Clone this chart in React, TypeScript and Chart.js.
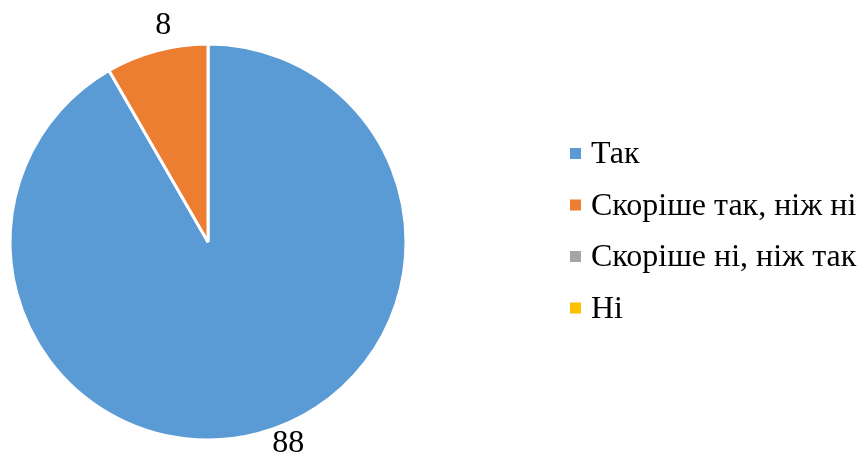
import React, { useEffect, useRef } from "react";
import { Chart, registerables } from "chart.js";

Chart.register(...registerables);

const categories = ["Так", "Скоріше так, ніж ні", "Скоріше ні, ніж так", "Ні"];
const values = [88, 8, 0, 0];
const colors = ["#5B9BD5", "#ED7D31", "#A5A5A5", "#FFC000"];
// per-label nudges from the arc's outer mid-point (layout only)
const labelNudges = [
  [29, 10],
  [6.5, -25],
  [0, 0],
  [0, 0],
];

const FONT = "'Liberation Serif', 'Times New Roman', serif";

const overlayPlugin = {
  id: "overlay",
  afterDraw(chart: any) {
    const ctx = chart.ctx;
    const meta = chart.getDatasetMeta(0);
    ctx.save();
    // data labels
    ctx.fillStyle = "#000";
    ctx.font = `32px ${FONT}`;
    ctx.textAlign = "center";
    ctx.textBaseline = "middle";
    meta.data.forEach((arc: any, i: number) => {
      const v = values[i];
      if (!v) return;
      const { x, y, startAngle, endAngle, outerRadius } = arc.getProps(
        ["x", "y", "startAngle", "endAngle", "outerRadius"],
        true
      );
      const mid = (startAngle + endAngle) / 2;
      const px = x + Math.cos(mid) * outerRadius + labelNudges[i][0];
      const py = y + Math.sin(mid) * outerRadius + labelNudges[i][1];
      ctx.fillText(String(v), px, py);
    });
    // legend
    ctx.font = `32px ${FONT}`;
    ctx.textAlign = "left";
    ctx.textBaseline = "alphabetic";
    const lx = 570;
    const ly0 = 153;
    const step = 51.5;
    categories.forEach((c, i) => {
      const cy = ly0 + i * step;
      ctx.fillStyle = colors[i];
      ctx.fillRect(lx, cy - 5, 11, 11);
      ctx.fillStyle = "#000";
      ctx.fillText(c, lx + 21, cy + 10);
    });
    ctx.restore();
  },
};

export default function App() {
  const ref = useRef<HTMLCanvasElement | null>(null);
  useEffect(() => {
    if (!ref.current) return;
    const chart = new Chart(ref.current, {
      type: "pie",
      data: {
        labels: categories,
        datasets: [
          {
            data: values,
            backgroundColor: colors,
            borderColor: "#ffffff",
            borderWidth: 3,
          },
        ],
      },
      options: {
        responsive: false,
        maintainAspectRatio: false,
        animation: false,
        layout: { padding: { left: 8.5, right: 459.5, top: 42.5, bottom: 14.5 } },
        plugins: {
          legend: { display: false },
          tooltip: { enabled: false },
        },
      },
      plugins: [overlayPlugin],
    });
    return () => chart.destroy();
  }, []);
  return (
    <div style={{ position: "absolute", left: 0, top: 0, width: 867, height: 456, background: "#fff" }}>
      <canvas ref={ref} width={867} height={456} />
    </div>
  );
}
